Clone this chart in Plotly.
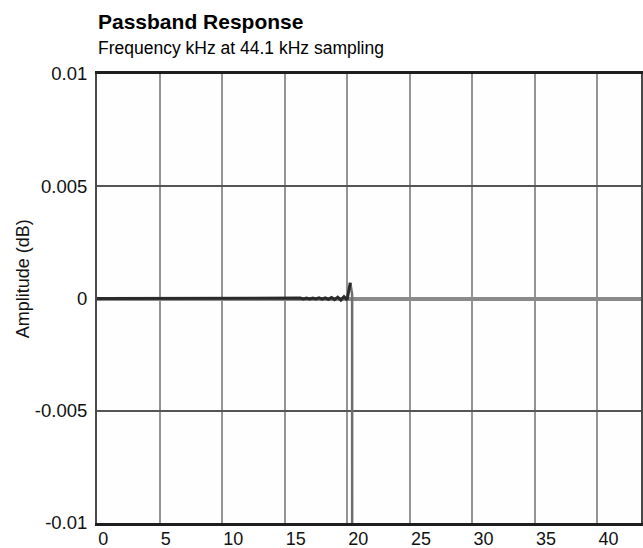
import plotly.graph_objects as go

# Passband response data (kHz, dB)
freq_khz = [0, 2, 4, 6, 8, 10, 12, 14, 15,
            15.25, 15.5, 15.75, 16, 16.25, 16.5, 16.75, 17, 17.25, 17.5,
            17.75, 18, 18.25, 18.5, 18.75, 19, 19.25, 19.5, 19.75, 20.0,
            20.25]
amp_db = [0, 0, 0, 0, 0, 0, 0, 0, 0,
          0.00001, -0.00001, 0.00001, -0.00001, 0.00002, -0.00002, 0.00002, -0.00002, 0.00002, -0.00002,
          0.00003, -0.00003, 0.00003, -0.00004, 0.00004, -0.00005, 0.00006, -0.00007, 0.00008, -0.00006,
          0.0007]

# Transition band (falls off the bottom of the chart)
trans_freq_khz = [20.25, 20.4, 20.55]
trans_amp_db = [0.0007, 0.0002, -0.5]

x_ticks = [0, 5, 10, 15, 20, 25, 30, 35, 40]
y_ticks = [-0.01, -0.005, 0, 0.005, 0.01]
y_tick_labels = ["-0.01", "-0.005", "0", "0.005", "0.01"]

FONT = "Liberation Sans, Arial, sans-serif"

fig = go.Figure()
fig.add_trace(go.Scatter(
    x=trans_freq_khz, y=trans_amp_db, mode="lines",
    line=dict(color="#6e6e6e", width=2.5),
    showlegend=False, hoverinfo="skip",
))
fig.add_trace(go.Scatter(
    x=freq_khz, y=amp_db, mode="lines",
    line=dict(color="#2a2a2a", width=3),
    showlegend=False, hoverinfo="skip",
))

fig.update_layout(
    width=643, height=548,
    margin=dict(l=97, r=2, t=74, b=25, autoexpand=False),
    paper_bgcolor="white", plot_bgcolor="#fefefe",
    font=dict(family=FONT, color="#111"),
    showlegend=False,
)

fig.update_xaxes(
    range=[0, 43.5], tickmode="array", tickvals=x_ticks,
    ticktext=[str(v) for v in x_ticks],
    tickfont=dict(size=18, color="#111"),
    ticklabelposition="outside right", ticklabelstandoff=-2,
    ticks="", showgrid=True, gridcolor="#949494", gridwidth=2,
    zeroline=False,
    showline=True, mirror=True, linecolor="#1e1e1e", linewidth=2.5,
    automargin=False, fixedrange=True,
)
fig.update_yaxes(
    range=[-0.01, 0.01], tickmode="array", tickvals=y_ticks,
    ticktext=y_tick_labels,
    tickfont=dict(size=18.5, color="#111"),
    ticks="", ticklabelstandoff=4,
    showgrid=True, gridcolor="#555555", gridwidth=1.5,
    zeroline=True, zerolinecolor="#8a8a8a", zerolinewidth=4,
    showline=True, mirror=True, linecolor="#4a4a4a", linewidth=2,
    automargin=False, fixedrange=True,
)

fig.add_annotation(
    text="<b>Passband Response</b>", xref="paper", yref="paper",
    x=0, y=1.118, xanchor="left", yanchor="middle", showarrow=False,
    font=dict(family=FONT, size=21, color="#000"), borderpad=0,
)
fig.add_annotation(
    text="Frequency kHz at 44.1 kHz sampling", xref="paper", yref="paper",
    x=0, y=1.058, xanchor="left", yanchor="middle", showarrow=False,
    font=dict(family=FONT, size=17.5, color="#000"), borderpad=0,
)
fig.add_annotation(
    text="Amplitude (dB)", xref="paper", yref="paper",
    x=-0.136, y=0.543, xanchor="center", yanchor="middle", textangle=-90,
    showarrow=False, font=dict(family=FONT, size=18, color="#111"),
)

fig.write_html("out.html", config={"displayModeBar": False},
               post_script="document.body.style.margin='0';")
